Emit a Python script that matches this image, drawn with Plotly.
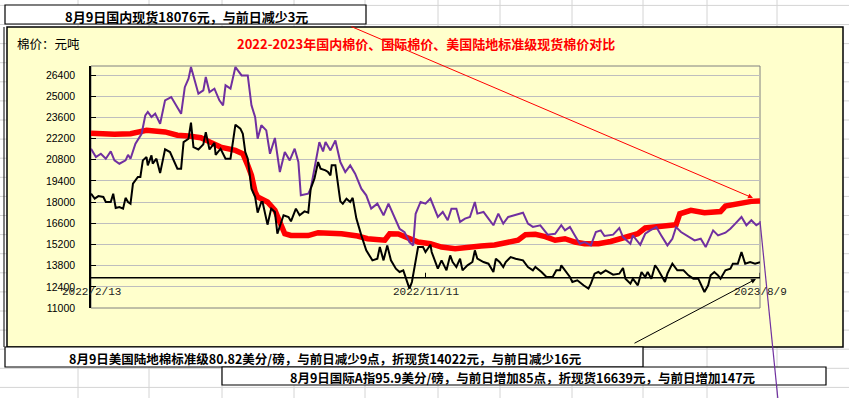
import plotly.graph_objects as go
import pandas as pd

START = "2022-02-13"
END = "2023-08-09"
tick_dates = ["2022-02-13", "2022-11-11", "2023-08-09"]
tick_labels = ["2022/2/13", "2022/11/11", "2023/8/9"]
y_ticks = [11000, 12400, 13800, 15200, 16600, 18000, 19400, 20800, 22200, 23600, 25000, 26400]

# 国内棉价 (days after 2022-02-13, 元/吨)
red_days = [0, 7, 19, 32, 45, 60, 70, 79, 89, 97, 105, 117, 123, 127, 130, 133, 135, 143, 149, 153,
            157, 162, 176, 184, 203, 216, 224, 238, 242, 249, 257, 265, 275, 284, 295, 305, 316, 327, 338, 346,
            352, 360, 368, 376, 384, 392, 400, 411, 421, 433, 443, 449, 459, 465, 474, 477, 486, 497, 510, 514,
            524, 535, 542]
red_vals = [22550, 22500, 22480, 22520, 22750, 22640, 22420, 22370, 22260, 21950, 21640, 21420, 21200, 20430, 19770, 18670, 18340, 18010, 17460, 16680,
            15910, 15800, 15790, 15980, 15910, 15760, 15580, 15480, 15910, 15900, 15580, 15360, 15250, 15030, 14920, 15030, 15100, 15170, 15300, 15480,
            15850, 15870, 15720, 15480, 15580, 15360, 15250, 15250, 15400, 15630, 15910, 16290, 16350, 16470, 16510, 17230, 17460, 17300, 17380, 17740,
            17900, 18050, 18076]

# 国际棉价 (折现货)
purple_days = [0, 4, 8, 12, 16, 19, 23, 28, 30, 32, 36, 41, 44, 46, 49, 52, 56, 60, 65, 68,
               73, 76, 79, 81, 84, 87, 91, 93, 96, 100, 104, 107, 109, 113, 117, 122, 127, 130, 133, 135,
               138, 142, 145, 149, 153, 157, 161, 165, 168, 170, 176, 178, 185, 188, 190, 194, 198, 202, 206, 210,
               214, 219, 223, 227, 232, 237, 241, 246, 250, 254, 258, 261, 263, 267, 271, 275, 281, 285, 289, 292,
               296, 299, 303, 307, 311, 313, 318, 322, 326, 330, 334, 338, 343, 350, 354, 358, 364, 366, 370, 376,
               381, 384, 388, 392, 396, 400, 405, 409, 413, 416, 423, 428, 431, 437, 439, 445, 449, 453, 458, 462,
               467, 471, 474, 478, 484, 489, 494, 498, 504, 508, 514, 518, 522, 527, 531, 535, 539, 542]
purple_vals = [21530, 20980, 21200, 20870, 21360, 20760, 20540, 20760, 21130, 20870, 21860, 22520, 23740, 23960, 23630, 23850, 23180, 24730, 24950, 24520,
               23840, 25600, 26160, 26930, 26010, 25170, 25390, 26270, 25280, 25500, 24730, 24400, 25720, 25500, 26930, 26380, 26380, 24400, 23620, 22190,
               23080, 22740, 21200, 22240, 19990, 21310, 20760, 21530, 20650, 18450, 18560, 18890, 21970, 21350, 21970, 21420, 22080, 20650, 19990, 20430,
               19880, 18890, 18450, 17570, 17900, 17130, 17900, 17020, 16240, 16020, 15360, 15140, 17230, 18010, 17900, 18230, 17020, 17350, 16800, 17570,
               17570, 16690, 16910, 17020, 18010, 17240, 17350, 16910, 16470, 17240, 16580, 17020, 17130, 17300, 16580, 16360, 16470, 16240, 15850, 15910,
               16470, 16130, 16360, 15800, 15250, 15360, 15140, 16020, 16130, 15760, 15850, 16290, 15690, 15250, 15800, 15180, 15910, 16130, 16350, 15800,
               15140, 15580, 16350, 16020, 15690, 15470, 15580, 15030, 16130, 15800, 15980, 16240, 16580, 17020, 16470, 16800, 16470, 16639]

# 美国陆地棉标准级 (折现货)
black_days = [0, 3, 6, 10, 12, 16, 18, 20, 23, 26, 28, 30, 32, 34, 38, 40, 42, 45, 46, 49,
              50, 53, 56, 60, 64, 68, 70, 73, 75, 79, 81, 83, 87, 91, 93, 96, 100, 101, 105, 109,
              113, 117, 121, 123, 125, 127, 130, 133, 135, 138, 139, 143, 146, 149, 151, 156, 160, 162, 166, 169,
              173, 176, 178, 181, 184, 186, 190, 192, 194, 195, 198, 202, 204, 207, 210, 212, 215, 219, 223, 228,
              232, 234, 237, 240, 243, 247, 250, 253, 255, 258, 260, 263, 265, 269, 271, 275, 276, 281, 284, 288,
              291, 293, 296, 299, 301, 305, 309, 311, 313, 318, 322, 326, 328, 331, 334, 336, 340, 344, 350, 354,
              358, 360, 365, 369, 374, 377, 380, 381, 384, 388, 390, 394, 399, 403, 405, 408, 411, 413, 417, 423,
              428, 431, 433, 437, 439, 443, 446, 449, 451, 454, 457, 459, 462, 465, 467, 471, 475, 480, 484, 488,
              492, 494, 497, 500, 502, 505, 508, 510, 514, 518, 520, 524, 527, 530, 534, 538, 542]
black_vals = [18560, 18230, 18400, 18340, 18010, 18010, 18560, 17610, 17680, 17570, 18280, 18010, 17900, 19220, 19660, 19660, 20760, 20980, 20430, 21090,
              20540, 20870, 19920, 21490, 21310, 20650, 20210, 20210, 21970, 22190, 23250, 21640, 21480, 21820, 22630, 21480, 21920, 21130, 21530, 20870,
              20870, 23120, 22860, 22520, 21310, 20870, 18890, 18340, 17300, 18010, 18010, 16510, 17570, 17350, 15910, 17130, 17020, 16730, 17570, 17130,
              17390, 17300, 18890, 19550, 20650, 20210, 20100, 19990, 19770, 20430, 20430, 18050, 17900, 18230, 18010, 18280, 16910, 15800, 14810, 14150,
              14260, 15030, 14150, 15140, 14150, 13600, 13380, 13490, 12940, 12280, 12720, 14040, 15030, 15030, 14700, 15180, 14700, 13600, 14150, 13490,
              14480, 14040, 13710, 14260, 13490, 13820, 14040, 14810, 14260, 14040, 13930, 13380, 14260, 14040, 13710, 14040, 14370, 14260, 14150, 13710,
              13490, 13710, 13380, 13050, 13050, 13490, 13490, 13820, 13490, 13050, 12720, 12830, 12500, 12280, 12610, 13270, 13380, 13270, 13490, 13200,
              13270, 13650, 12940, 12610, 12940, 12500, 13380, 13050, 13380, 12940, 13820, 13600, 13160, 12720, 13270, 13930, 13490, 13490, 13160, 12940,
              12940, 12610, 12060, 12500, 13160, 13380, 13160, 12940, 13490, 13600, 13930, 13930, 14700, 13930, 14040, 13930, 14022]

assert len(red_days) == len(red_vals)
assert len(purple_days) == len(purple_vals)
assert len(black_days) == len(black_vals)

AXIS_CROSS = 13000

title_text = "2022-2023年国内棉价、国际棉价、美国陆地标准级现货棉价对比"
unit_text = "棉价：元吨"
box1_text = "8月9日国内现货18076元，与前日减少3元"
box2_text = "8月9日美国陆地棉标准级80.82美分/磅，与前日减少9点，折现货14022元，与前日减少16元"
box3_text = "8月9日国际A指95.9美分/磅，与前日增加85点，折现货16639元，与前日增加147元"


def to_dates(days):
    s = pd.Timestamp(START) + pd.to_timedelta(days, unit="D")
    return [d.strftime("%Y-%m-%d") for d in s]


# ---- layout geometry (page pixels -> paper coords) ----
W, H = 849, 398
L, R, T, B = 91, 760, 66, 308


def px(X):
    return (X - L) / (R - L)


def py(Y):
    return (B - Y) / (B - T)


YELLOW = "#FFFFCC"
PURPLE = "#7030A0"
CJK = "Noto Sans CJK SC"

fig = go.Figure()
fig.add_trace(go.Scatter(x=to_dates(red_days), y=red_vals, mode="lines",
                         line=dict(color="#FF0000", width=5.5), name="国内棉价"))
fig.add_trace(go.Scatter(x=to_dates(purple_days), y=purple_vals, mode="lines",
                         line=dict(color=PURPLE, width=2), name="国际棉价"))
fig.add_trace(go.Scatter(x=to_dates(black_days), y=black_vals, mode="lines",
                         line=dict(color="#000000", width=2), name="美国陆地棉"))

shapes = []
# spreadsheet cell grid
for X in [78, 149, 222, 294, 365, 438, 500, 572, 643, 707, 777]:
    shapes.append(dict(type="line", xref="paper", yref="paper", x0=px(X), x1=px(X), y0=py(0), y1=py(H),
                       line=dict(color="#D4D4D4", width=1), layer="below"))
for k in range(0, 22):
    Y = 5.4 + 19.1 * k
    shapes.append(dict(type="line", xref="paper", yref="paper", x0=px(0), x1=px(W), y0=py(Y), y1=py(Y),
                       line=dict(color="#D4D4D4", width=1), layer="below"))
# yellow chart area
shapes.append(dict(type="rect", xref="paper", yref="paper", x0=px(7), x1=px(843), y0=py(347), y1=py(27),
                   fillcolor=YELLOW, line=dict(color="#000000", width=1.5), layer="below"))
shapes.append(dict(type="line", xref="paper", yref="paper", x0=px(4), x1=px(4), y0=py(347), y1=py(27),
                   line=dict(color="#000000", width=1), layer="below"))
# plot area border
shapes.append(dict(type="rect", xref="paper", yref="paper", x0=0, x1=1, y0=0, y1=1,
                   line=dict(color="#808080", width=1), layer="below"))
# text boxes
for (x0, x1, y0, y1) in [(5, 366, 5, 24), (5, 643, 347, 367), (222, 826, 367, 385)]:
    shapes.append(dict(type="rect", xref="paper", yref="paper", x0=px(x0), x1=px(x1), y0=py(y1), y1=py(y0),
                       fillcolor="#FFFFFF", line=dict(color="#000000", width=1.2), layer="above"))
# category axis crossing at 13000
shapes.append(dict(type="line", xref="paper", yref="y", x0=0, x1=1, y0=AXIS_CROSS, y1=AXIS_CROSS,
                   line=dict(color="#000000", width=1.5), layer="above"))
for d in tick_dates[1:]:
    shapes.append(dict(type="line", xref="x", yref="y", ysizemode="pixel", yanchor=AXIS_CROSS,
                       x0=d, x1=d, y0=0, y1=5, line=dict(color="#000000", width=1), layer="above"))
# purple leader line
shapes.append(dict(type="line", xref="paper", yref="paper", x0=px(760), x1=px(778), y0=py(221), y1=py(400),
                   line=dict(color=PURPLE, width=1.2), layer="above"))

annotations = []
for d, t in zip(tick_dates, tick_labels):
    annotations.append(dict(x=d, y=AXIS_CROSS, xref="x", yref="y", text=t, showarrow=False,
                            yanchor="middle", xanchor="center", yshift=-14,
                            font=dict(family="Liberation Mono", size=11, color="#222222")))


def label(X, Y, text, size, color="#000000"):
    return dict(x=px(X), y=py(Y), xref="paper", yref="paper", text=text, showarrow=False,
                xanchor="center", yanchor="middle",
                font=dict(family=CJK, size=size, color=color))


annotations.append(label(426, 43, "<b>" + title_text + "</b>", 13, "#FF0000"))
annotations.append(label(48, 43, unit_text, 12.5))
annotations.append(label(186, 17, "<b>" + box1_text + "</b>", 13))
annotations.append(label(325, 358, "<b>" + box2_text + "</b>", 12.5))
annotations.append(label(523, 377, "<b>" + box3_text + "</b>", 12.5))
# arrows
annotations.append(dict(x=px(753), y=py(198), xref="paper", yref="paper", text="", showarrow=True,
                        ax=350 - 753, ay=26 - 198, arrowhead=2, arrowsize=1, arrowwidth=1,
                        arrowcolor="#FF0000", standoff=0))
annotations.append(dict(x=px(756), y=py(279), xref="paper", yref="paper", text="", showarrow=True,
                        ax=633 - 756, ay=344 - 279, arrowhead=2, arrowsize=1, arrowwidth=1,
                        arrowcolor="#000000", standoff=0))

fig.update_layout(
    width=W, height=H,
    margin=dict(l=L, r=W - R, t=T, b=H - B, pad=0),
    paper_bgcolor="#FFFFFF",
    plot_bgcolor=YELLOW,
    showlegend=False,
    shapes=shapes,
    annotations=annotations,
    xaxis=dict(type="date", range=[START, END], showgrid=False, showticklabels=False,
               showline=False, zeroline=False, ticks=""),
    yaxis=dict(range=[11000, 27000], tickvals=y_ticks, ticktext=[str(v) for v in y_ticks],
               showgrid=True, gridcolor="#BEBEBE", gridwidth=1, zeroline=False,
               showline=True, linecolor="#000000", linewidth=1.5,
               ticks="inside", ticklen=5, tickcolor="#000000",
               ticklabelstandoff=12,
               tickfont=dict(family="Liberation Sans", size=10.5, color="#000000")),
)

fig.write_html("out.html", config={"displayModeBar": False},
               post_script="document.body.style.margin='0';")
